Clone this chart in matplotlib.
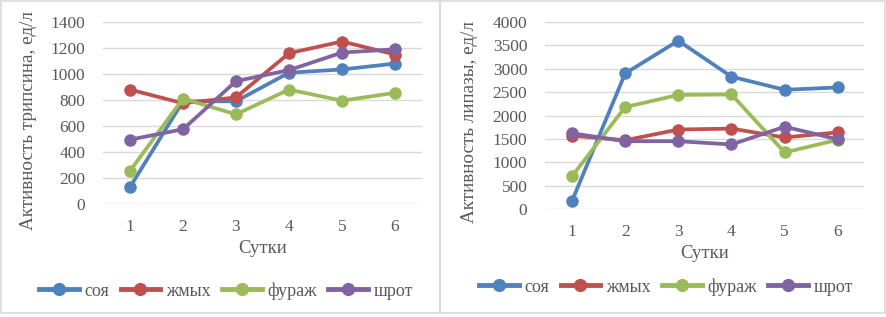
import matplotlib
matplotlib.use("Agg")
import matplotlib.pyplot as plt
from matplotlib.patches import Rectangle
from matplotlib.lines import Line2D

plt.rcParams["font.family"] = ["Liberation Serif", "DejaVu Serif"]

# ---- data ----
days = [1, 2, 3, 4, 5, 6]
series_names = ["соя", "жмых", "фураж", "шрот"]
colors = ["#4F81BD", "#C0504D", "#9BBB59", "#8064A2"]

trypsin_soy = [130, 790, 790, 1010, 1035, 1080]
trypsin_cake = [880, 775, 820, 1160, 1250, 1150]
trypsin_feed = [255, 810, 690, 880, 795, 855]
trypsin_meal = [495, 575, 945, 1030, 1165, 1190]

lipase_soy = [170, 2900, 3600, 2830, 2550, 2600]
lipase_cake = [1570, 1470, 1700, 1720, 1530, 1640]
lipase_feed = [700, 2180, 2440, 2450, 1210, 1480]
lipase_meal = [1620, 1450, 1450, 1380, 1760, 1490]

trypsin = [trypsin_soy, trypsin_cake, trypsin_feed, trypsin_meal]
lipase = [lipase_soy, lipase_cake, lipase_feed, lipase_meal]

W, H = 887, 317
fig = plt.figure(figsize=(W / 100, H / 100), dpi=100)
fig.patch.set_facecolor("white")

# panel frames
for x0, x1 in [(1, 440), (440, 885)]:
    fig.add_artist(Rectangle((x0 / W, 1 - 313 / H), (x1 - x0) / W, 312 / H,
                             transform=fig.transFigure, fill=False,
                             edgecolor="#D9D9D9", linewidth=1.2))


def panel(rect, data, ymax, step, ylabel, ylab_x, ylab_y, xlab_y,
          leg_y, leg_x):
    ax = fig.add_axes(rect)
    for vals, c, name in zip(data, colors, series_names):
        ax.plot(days, vals, color=c, lw=2.7, marker="o", ms=8,
                label=name, solid_capstyle="round")
    ax.set_xlim(0.5, 6.5)
    ax.set_ylim(0, ymax)
    ax.set_yticks(range(0, ymax + 1, step))
    ax.set_xticks(days)
    ax.grid(axis="y", color="#D9D9D9", lw=1)
    ax.set_axisbelow(True)
    for sp in ax.spines.values():
        sp.set_visible(False)
    ax.tick_params(length=0, labelsize=12.5, colors="#595959")
    ax.tick_params(axis="y", pad=13)
    ax.tick_params(axis="x", pad=11)
    ax.set_ylabel(ylabel, fontsize=13.8, color="#595959")
    ax.yaxis.set_label_coords(ylab_x, ylab_y)
    ax.set_xlabel("Сутки", fontsize=13.5, color="#595959")
    ax.xaxis.set_label_coords(0.5, xlab_y)
    handles = [Line2D([], [], color=c, lw=3.5, marker="o", ms=8.5)
               for c in colors]
    fig.legend(handles, series_names, loc="center", ncol=4,
               bbox_to_anchor=(leg_x, leg_y), frameon=False,
               fontsize=13, handlelength=2.2, handletextpad=0.3,
               columnspacing=0.65, labelcolor="#595959")
    return ax


panel([103.5 / W, 1 - 204 / H, 318 / W, 182 / H], trypsin, 1400, 200,
      "Активность трипсина, ед/л", -0.21, 0.46, -0.2, 1 - 291 / H, 226 / W)
panel([545.4 / W, 1 - 209 / H, 319 / W, 187 / H], lipase, 4000, 500,
      "Активность липазы, ед/л", -0.21, 0.465, -0.19, 1 - 287 / H, 666 / W)

fig.savefig("out.png", dpi=100)
